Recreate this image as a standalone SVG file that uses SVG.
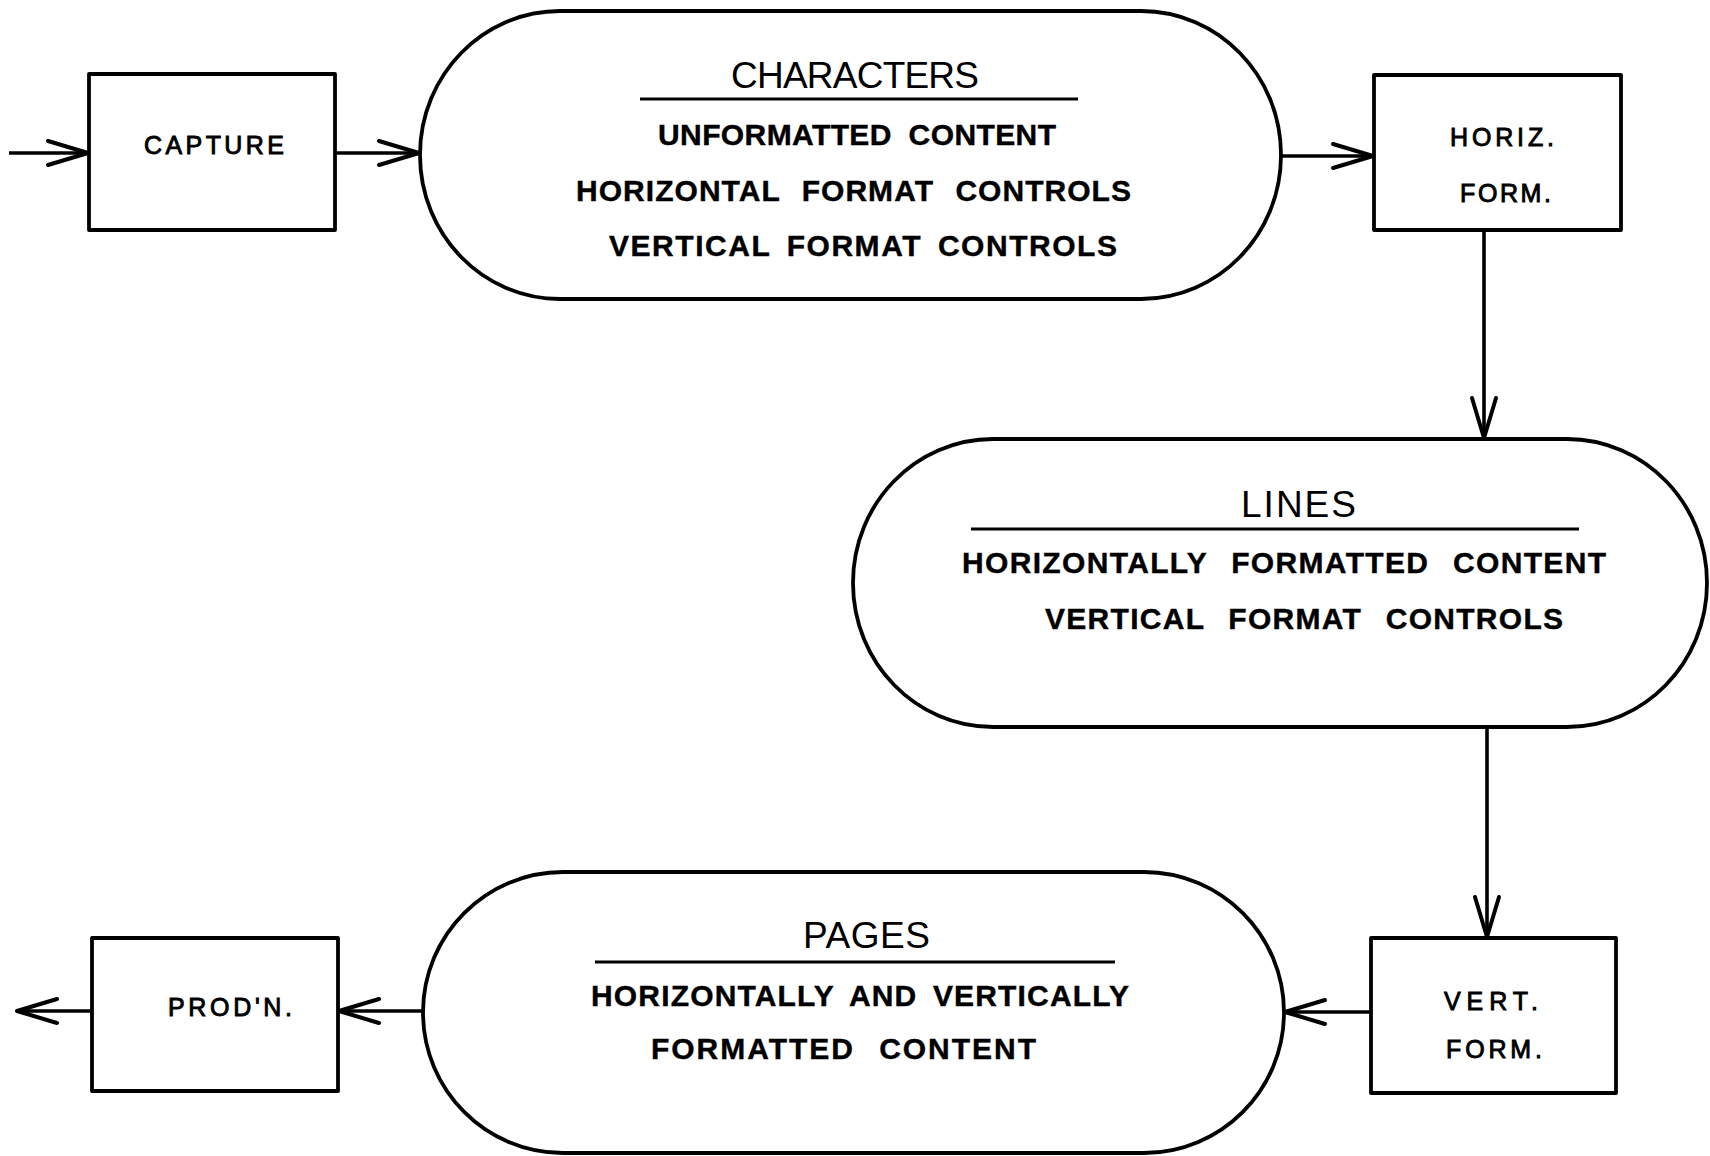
<svg xmlns="http://www.w3.org/2000/svg" width="1710" height="1156" viewBox="0 0 1710 1156">
  <style>
    .shape { fill: none; stroke: #000; stroke-width: 3.8; stroke-linejoin: round; }
    .wire { fill: none; stroke: #000; stroke-width: 3.6; }
    .rule { stroke: #000; stroke-width: 3; }
    .title { font-family: "Liberation Sans", Arial, sans-serif; font-size: 37px; fill: #000; }
    .body { font-family: "Liberation Sans", Arial, sans-serif; font-size: 30px; font-weight: bold; fill: #000; stroke: #000; stroke-width: 0.4; }
    .label { font-family: "Liberation Sans", Arial, sans-serif; font-size: 25px; fill: #000; stroke: #000; stroke-width: 0.9; }
  </style>
  <defs>
    <marker id="head" markerUnits="userSpaceOnUse" markerWidth="50" markerHeight="34" refX="0" refY="0" viewBox="-44 -17 50 34" orient="auto" overflow="visible">
      <path d="M-40,-12 L0,0 L-40,12" fill="none" stroke="#000" stroke-width="4" stroke-linecap="round" stroke-linejoin="round"/>
    </marker>
  </defs>
  <rect width="1710" height="1156" fill="#fff"/>

  <!-- connectors -->
  <g id="connectors">
    <line class="wire" x1="9" y1="153" x2="88" y2="153" marker-end="url(#head)"/>
    <line class="wire" x1="335" y1="153" x2="419" y2="153" marker-end="url(#head)"/>
    <line class="wire" x1="1281" y1="156" x2="1373" y2="156" marker-end="url(#head)"/>
    <line class="wire" x1="1484" y1="230" x2="1484" y2="438" marker-end="url(#head)"/>
    <line class="wire" x1="1487" y1="727" x2="1487" y2="937" marker-end="url(#head)"/>
    <line class="wire" x1="1371" y1="1012" x2="1285" y2="1012" marker-end="url(#head)"/>
    <line class="wire" x1="423" y1="1011" x2="339" y2="1011" marker-end="url(#head)"/>
    <line class="wire" x1="92" y1="1011" x2="17" y2="1011" marker-end="url(#head)"/>
  </g>

  <!-- process boxes -->
  <g id="capture">
    <rect class="shape" x="89" y="74" width="246" height="156"/>
    <text class="label" x="144" y="154" textLength="140" lengthAdjust="spacing">CAPTURE</text>
  </g>

  <g id="horiz-form">
    <rect class="shape" x="1374" y="75" width="247" height="155"/>
    <text class="label" x="1450" y="146" textLength="104" lengthAdjust="spacing">HORIZ.</text>
    <text class="label" x="1460" y="202" textLength="91" lengthAdjust="spacing">FORM.</text>
  </g>

  <g id="vert-form">
    <rect class="shape" x="1371" y="938" width="245" height="155"/>
    <text class="label" x="1444" y="1010" textLength="94" lengthAdjust="spacing">VERT.</text>
    <text class="label" x="1446" y="1058" textLength="96" lengthAdjust="spacing">FORM.</text>
  </g>

  <g id="prodn">
    <rect class="shape" x="92" y="938" width="246" height="153"/>
    <text class="label" x="168" y="1016" textLength="124" lengthAdjust="spacing">PROD'N.</text>
  </g>

  <!-- data stores -->
  <g id="characters">
    <path class="shape" d="M560,11 H1141 C1218,11 1281,75 1281,155 C1281,235 1218,299 1141,299 H560 C483,299 420,235 420,155 C420,75 483,11 560,11 Z"/>
    <text class="title" x="731" y="88" textLength="248" lengthAdjust="spacing">CHARACTERS</text>
    <line class="rule" x1="640" y1="99" x2="1078" y2="99"/>
    <text class="body" x="658" y="145" textLength="398" lengthAdjust="spacing" word-spacing="8">UNFORMATTED CONTENT</text>
    <text class="body" x="576" y="201" textLength="555" lengthAdjust="spacing" word-spacing="12">HORIZONTAL FORMAT CONTROLS</text>
    <text class="body" x="609" y="256" textLength="508" lengthAdjust="spacing" word-spacing="6">VERTICAL FORMAT CONTROLS</text>
  </g>

  <g id="lines">
    <path class="shape" d="M993,439 H1567 C1644,439 1707,503 1707,583 C1707,663 1644,727 1567,727 H993 C916,727 853,663 853,583 C853,503 916,439 993,439 Z"/>
    <text class="title" x="1241" y="517" textLength="115" lengthAdjust="spacing">LINES</text>
    <line class="rule" x1="971" y1="529" x2="1579" y2="529"/>
    <text class="body" x="962" y="573" textLength="644" lengthAdjust="spacing" word-spacing="14">HORIZONTALLY FORMATTED CONTENT</text>
    <text class="body" x="1045" y="629" textLength="518" lengthAdjust="spacing" word-spacing="14">VERTICAL FORMAT CONTROLS</text>
  </g>

  <g id="pages">
    <path class="shape" d="M563,872 H1144 C1221,872 1284,935 1284,1012.5 C1284,1090 1221,1153 1144,1153 H563 C486,1153 423,1090 423,1012.5 C423,935 486,872 563,872 Z"/>
    <text class="title" x="803" y="948" textLength="127" lengthAdjust="spacing">PAGES</text>
    <line class="rule" x1="595" y1="962" x2="1115" y2="962"/>
    <text class="body" x="591" y="1006" textLength="538" lengthAdjust="spacing" word-spacing="6">HORIZONTALLY AND VERTICALLY</text>
    <text class="body" x="651" y="1059" textLength="385" lengthAdjust="spacing" word-spacing="14">FORMATTED CONTENT</text>
  </g>
</svg>
